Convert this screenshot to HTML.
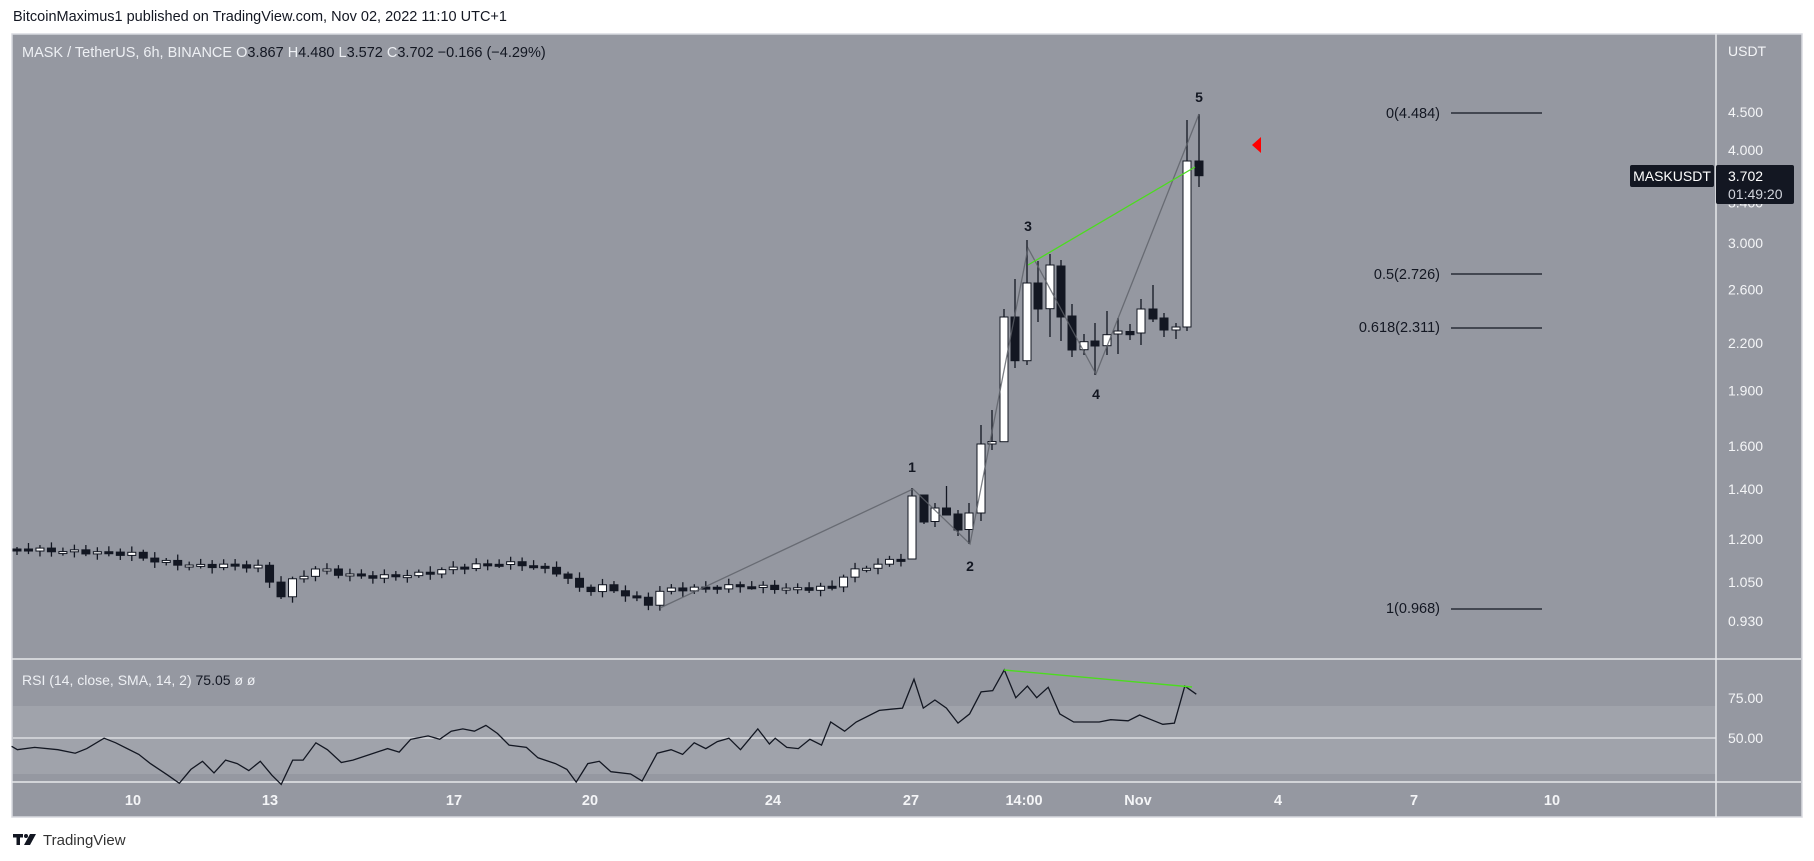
<!DOCTYPE html>
<html><head><meta charset="utf-8">
<style>
html,body{margin:0;padding:0;background:#fff;width:1814px;height:861px;overflow:hidden}
svg{display:block;font-family:"Liberation Sans",sans-serif}
</style></head>
<body>
<svg id="s" width="1814" height="861" viewBox="0 0 1814 861" xmlns="http://www.w3.org/2000/svg">
<rect x="0" y="0" width="1814" height="861" fill="#fff"/>
<text x="13" y="21" font-size="14.5" fill="#131722">BitcoinMaximus1 published on TradingView.com, Nov 02, 2022 11:10 UTC+1</text>
<rect x="12" y="34" width="1790" height="783" fill="#9598a1" stroke="#d8dae0" stroke-width="1.5"/>
<rect x="13" y="706" width="1703" height="68" fill="#a0a3ab"/>
<line x1="12" y1="659" x2="1801" y2="659" stroke="#e6e7eb" stroke-width="1.5"/>
<line x1="12" y1="782" x2="1801" y2="782" stroke="#e6e7eb" stroke-width="1.5"/>
<line x1="13" y1="738" x2="1716" y2="738" stroke="#e6e7eb" stroke-width="1.2"/>
<line x1="1716" y1="34" x2="1716" y2="817" stroke="#e6e7eb" stroke-width="1.5"/>
<text x="22" y="57" font-size="14.5" fill="#eef0f4">MASK / TetherUS, 6h, BINANCE  <tspan fill="#eef0f4">O</tspan><tspan fill="#131722">3.867</tspan>  H<tspan fill="#131722">4.480</tspan>  L<tspan fill="#131722">3.572</tspan>  C<tspan fill="#131722">3.702</tspan>  <tspan fill="#131722">−0.166 (−4.29%)</tspan></text>
<text x="1728" y="56" font-size="14" fill="#f4f5f7">USDT</text>
<g id="axis" font-size="14" fill="#f4f5f7"></g>
<g id="candles"></g>
<g font-size="14" fill="#131722" font-weight="bold" text-anchor="middle">
<text x="912" y="472">1</text><text x="970" y="571">2</text><text x="1028" y="231">3</text><text x="1096" y="399">4</text><text x="1199" y="102">5</text>
</g>
<polyline points="660,608 913,489 970,544 1028,248 1096,374 1199,114" fill="none" stroke="#5d6068" stroke-width="1.3" opacity="0.8"/>
<line x1="1028" y1="265" x2="1195" y2="167" stroke="#4cdc1f" stroke-width="1.3"/>
<g font-size="14.5" fill="#131722" text-anchor="end">
<text x="1440" y="118">0(4.484)</text><text x="1440" y="279">0.5(2.726)</text><text x="1440" y="332">0.618(2.311)</text><text x="1440" y="613">1(0.968)</text>
</g>
<g stroke="#131722" stroke-width="1.3">
<line x1="1451" y1="113" x2="1542" y2="113"/><line x1="1451" y1="274" x2="1542" y2="274"/><line x1="1451" y1="328" x2="1542" y2="328"/><line x1="1451" y1="609" x2="1542" y2="609"/>
</g>
<polygon points="1252,145 1261,137 1261,153" fill="#ff0000"/>
<rect x="1630" y="165" width="84" height="22" rx="2" fill="#131722"/>
<text x="1672" y="181" font-size="14" fill="#fff" text-anchor="middle">MASKUSDT</text>
<rect x="1716" y="165" width="78" height="39" rx="2" fill="#131722"/>
<text x="1728" y="181" font-size="14" fill="#fff">3.702</text>
<text x="1728" y="199" font-size="14" fill="#d1d4dc">01:49:20</text>
<text x="22" y="685" font-size="14" fill="#eef0f4">RSI (14, close, SMA, 14, 2)  <tspan fill="#131722">75.05</tspan>  <tspan fill="#eef0f4">ø  ø</tspan></text>
<text x="1728" y="703" font-size="14" fill="#f4f5f7">75.00</text>
<text x="1728" y="743" font-size="14" fill="#f4f5f7">50.00</text>
<polyline id="rsi" fill="none" stroke="#131722" stroke-width="1.3"/>
<line x1="1004" y1="670" x2="1192" y2="687" stroke="#4cdc1f" stroke-width="1.4"/>
<g font-size="14.5" fill="#f4f5f7" text-anchor="middle" font-weight="bold">
<text x="133" y="805">10</text><text x="270" y="805">13</text><text x="454" y="805">17</text><text x="590" y="805">20</text><text x="773" y="805">24</text><text x="911" y="805">27</text><text x="1024" y="805">14:00</text><text x="1138" y="805">Nov</text><text x="1278" y="805">4</text><text x="1414" y="805">7</text><text x="1552" y="805">10</text>
</g>
<g fill="#131722"><rect x="13" y="834" width="10" height="3.5"/><rect x="16.5" y="834" width="3.5" height="11"/><circle cx="26" cy="836" r="2"/><polygon points="30,834 36,834 30,845 24,845"/></g>
<text x="43" y="845" font-size="15" fill="#333">TradingView</text>
</svg>
<script>
(function(){
var NS="http://www.w3.org/2000/svg",s=document.getElementById('candles');
function el(t,a){var e=document.createElementNS(NS,t);for(var k in a)e.setAttribute(k,a[k]);return e;}
function yp(p){return 112.2+(1.504-Math.log(p))*322.8;}
var ax=document.getElementById('axis');
[[4.5,'4.500'],[4.0,'4.000'],[3.4,'3.400'],[3.0,'3.000'],[2.6,'2.600'],[2.2,'2.200'],[1.9,'1.900'],[1.6,'1.600'],[1.4,'1.400'],[1.2,'1.200'],[1.05,'1.050'],[0.93,'0.930']].forEach(function(a){var t=el('text',{x:1728,y:(yp(a[0])+5).toFixed(1)});t.textContent=a[1];ax.appendChild(t);});
var wp=[[17,549],[60,551],[110,553],[132,554],[150,560],[170,563],[200,566],[230,565],[258,567],[270,582],[282,597],[293,580],[318,568],[345,575],[380,577],[420,574],[460,567],[500,563],[530,565],[560,573],[586,593],[598,585],[616,591],[649,604],[661,590],[700,588],[740,586],[797,589],[833,587],[845,574],[880,563],[901,559]];
function interp(x){for(var i=0;i<wp.length-1;i++){if(x<=wp[i+1][0]){var t=(x-wp[i][0])/(wp[i+1][0]-wp[i][0]);return wp[i][1]+t*(wp[i+1][1]-wp[i][1]);}}return wp[wp.length-1][1];}
var C=[],prev=549;
for(var i=0;i<78;i++){var x=17+i*11.48;var c=interp(x)+Math.sin(i*2.3)*2;var o=prev;var hi=Math.min(o,c)-2-Math.abs(Math.sin(i*1.7))*4;var lo=Math.max(o,c)+2+Math.abs(Math.cos(i*1.3))*4;C.push([x,o,c,hi,lo]);prev=c;}
var L=[[912,559,496,488,559],[924,495,522,495,524],[935,521.5,508,503,527],[946.5,508,515,486,515],[958,514,530,510,536],[969,529.5,513,503,544],[981,513,444,425,521],[992,444,441.5,410,450],[1004,441.7,317,309,442],[1015,317,360.7,279,368],[1027,360.7,283,240,365],[1038,283,309,261,322],[1050,308.7,265,254,337],[1061,266,317,260,341],[1072,316,350,304,357],[1084,349.7,341.7,334,355],[1095,341,346,323,375],[1107,345.7,334.7,311,355],[1118,334,331,318,354],[1130,331.5,334.7,324,340],[1141,333,309,299,345],[1153,309,319,285,322],[1164,318,330,313,337],[1176,330,327,323,339],[1187,327,161,120,331],[1199,161,175.7,114,187]];
C=C.concat(L);
C.forEach(function(k){var x=k[0],o=k[1],c=k[2],up=c<o;var top=Math.min(o,c),h=Math.max(Math.abs(o-c),2);
s.appendChild(el('line',{x1:x,y1:k[3],x2:x,y2:k[4],stroke:'#131722','stroke-width':1.3}));
s.appendChild(el('rect',{x:x-4,y:top,width:8,height:h,fill:up?'#fff':'#131722',stroke:'#131722','stroke-width':1}));});
var r=[[10,645],[15,648],[30,646],[50,648],[65,651],[75,647],[90,638],[100,642],[120,652],[130,660],[145,670],[155,677],[165,665],[175,658],[185,668],[195,657],[205,660],[215,666],[225,658],[235,670],[243,678],[253,657],[262,657],[273,642],[283,648],[295,659],[305,657],[320,652],[335,647],[345,650],[355,639],[370,636],[380,639],[390,632],[400,630],[410,632],[420,627],[430,634],[440,644],[455,646],[465,655],[480,660],[490,665],[498,676],[508,660],[518,658],[528,667],[545,669],[555,675],[568,651],[580,648],[590,652],[600,642],[610,647],[620,641],[630,638],[640,648],[655,630],[665,643],[670,638],[680,646],[690,647],[700,639],[710,644],[718,624],[730,632],[740,624],[760,614],[770,613],[780,612],[790,587],[798,612],[808,605],[818,612],[828,625],[838,617],[848,598],[858,597],[868,579],[878,603],[888,593],[896,603],[906,594],[916,617],[928,624],[940,624],[950,624],[960,622],[975,623],[985,618],[995,622],[1005,626],[1015,625],[1024,593],[1034,600]];
document.getElementById('rsi').setAttribute('points',r.map(function(p){return (p[0]*1.157).toFixed(1)+','+(p[1]*1.157).toFixed(1);}).join(' '));
})();
</script>
</body></html>
